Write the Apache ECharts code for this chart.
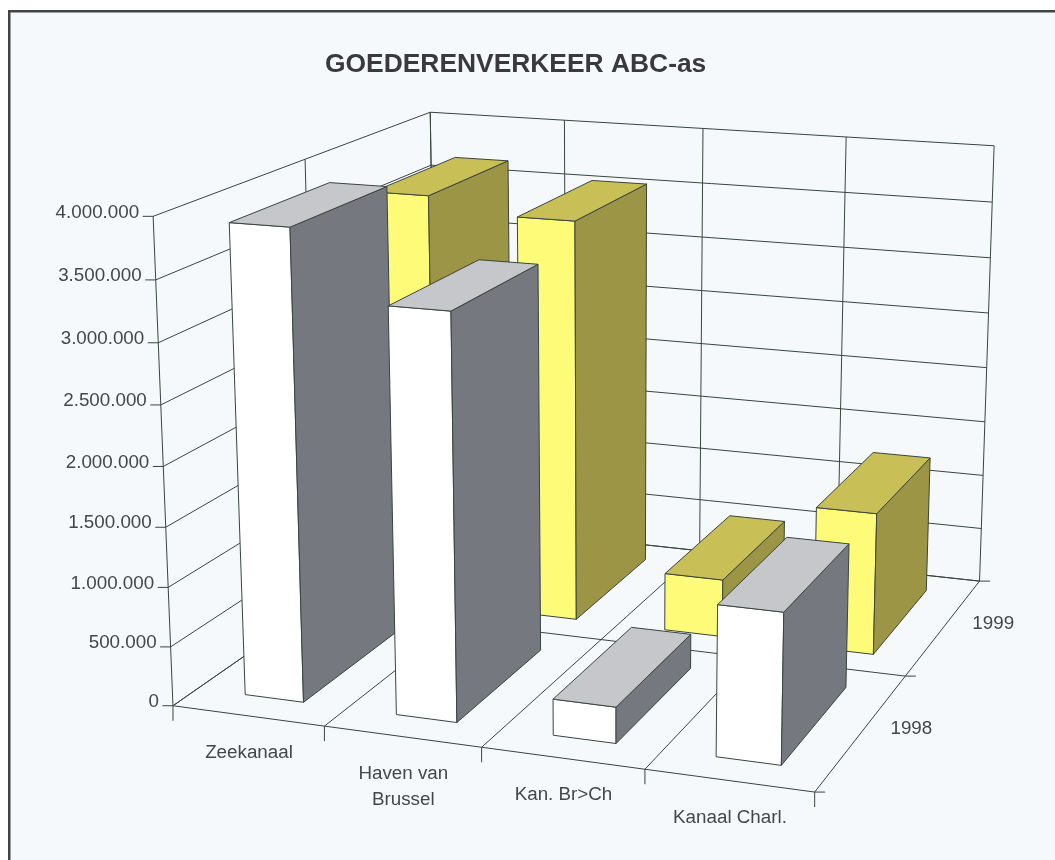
<!DOCTYPE html>
<html>
<head>
<meta charset="utf-8">
<title>GOEDERENVERKEER ABC-as</title>
<style>
	html, body { margin: 0; padding: 0; background: #ffffff; }
	#chart { width: 1055px; height: 860px; }
</style>
<script src="https://cdn.jsdelivr.net/npm/echarts@6/dist/echarts.min.js"></script>
</head>
<body>
<div id="chart"></div>
<script>
// Chart data
const chartTitle = 'GOEDERENVERKEER ABC-as';
const categories = ['Zeekanaal', 'Haven van\nBrussel', 'Kan. Br>Ch', 'Kanaal Charl.'];
const years = ['1998', '1999'];
const values1998 = [3900000, 3340000, 300000, 1230000];
const values1999 = [3670000, 3540000, 510000, 1240000];
const valueTicks = [0, 500000, 1000000, 1500000, 2000000, 2500000, 3000000, 3500000, 4000000];
const tickLabels = ['0', '500.000', '1.000.000', '1.500.000', '2.000.000', '2.500.000', '3.000.000', '3.500.000', '4.000.000'];

// Box floor: u = category position 0..4, w = depth 0..2 (front to back), v = value share 0..1
// Reference points of the box on screen, used to fit the camera
const calibration = [
	[0, 0, 0, 173, 706], [1, 0, 0, 324.5, 725.7], [2, 0, 0, 480.7, 746.7], [3, 0, 0, 645.5, 769.3], [4, 0, 0, 815.2, 791.7],
	[4, 1, 0, 905, 677.3], [4, 2, 0, 979.6, 580], [2, 2, 0, 699.7, 552.3], [3, 2, 0, 837.3, 565],
	[4, 2, 1, 994.3, 146], [3, 2, 1, 846.4, 137.3], [2, 2, 1, 702.4, 128.3], [1, 2, 1, 563.5, 120], [0, 2, 1, 431, 111.7],
	[0, 1, 1, 306, 159.3], [0, 0, 1, 152.5, 216.7]
];

const lineColor = '#3a453e';
const textColor = '#444648';
const fontFamily = '"Liberation Sans", Arial, sans-serif';
const barInset = { uFrom: 0.32, uTo: 0.71, wFrom: 0.16, wTo: 0.84 };
const whiteFaces = { front: '#ffffff', top: '#c5c7cb', side: '#75797f' };
const yellowFaces = { front: '#fdfb78', top: '#c9bf57', side: '#9c9545' };

// Least squares fit of the 3x4 camera matrix
function fitCamera(points) {
	let n = 11;
	let ata = [];
	let atb = [];
	for (let i = 0; i < n; i++) {
		ata[i] = new Array(n).fill(0);
		atb[i] = 0;
	}
	function addRow(row, b) {
		for (let i = 0; i < n; i++) {
			for (let j = 0; j < n; j++) {
				ata[i][j] += row[i] * row[j];
			}
			atb[i] += row[i] * b;
		}
	}
	for (let p of points) {
		let X = p[0], Y = p[1], Z = p[2], x = p[3] / 1000, y = p[4] / 1000;
		addRow([X, Y, Z, 1, 0, 0, 0, 0, -x * X, -x * Y, -x * Z], x);
		addRow([0, 0, 0, 0, X, Y, Z, 1, -y * X, -y * Y, -y * Z], y);
	}
	// Gaussian elimination
	for (let c = 0; c < n; c++) {
		let best = c;
		for (let r = c + 1; r < n; r++) {
			if (Math.abs(ata[r][c]) > Math.abs(ata[best][c])) best = r;
		}
		[ata[c], ata[best]] = [ata[best], ata[c]];
		[atb[c], atb[best]] = [atb[best], atb[c]];
		for (let r = c + 1; r < n; r++) {
			let f = ata[r][c] / ata[c][c];
			for (let k = c; k < n; k++) ata[r][k] -= f * ata[c][k];
			atb[r] -= f * atb[c];
		}
	}
	let m = new Array(n).fill(0);
	for (let r = n - 1; r >= 0; r--) {
		let s = atb[r];
		for (let k = r + 1; k < n; k++) s -= ata[r][k] * m[k];
		m[r] = s / ata[r][r];
	}
	return m;
}

const camera = fitCamera(calibration);

function project(u, w, v) {
	let d = camera[8] * u + camera[9] * w + camera[10] * v + 1;
	return [
		1000 * (camera[0] * u + camera[1] * w + camera[2] * v + camera[3]) / d,
		1000 * (camera[4] * u + camera[5] * w + camera[6] * v + camera[7]) / d
	];
}

// Value share from the library's own value axis
function valueShare(api, value) {
	let y0 = api.coord([0, valueTicks[0]])[1];
	let y1 = api.coord([0, valueTicks[valueTicks.length - 1]])[1];
	return (y0 - api.coord([0, value])[1]) / (y0 - y1);
}

function line(a, b) {
	return {
		type: 'line',
		shape: { x1: a[0], y1: a[1], x2: b[0], y2: b[1] },
		style: { stroke: lineColor, lineWidth: 1, fill: null }
	};
}

function label(text, x, y, align) {
	return {
		type: 'text',
		x: x,
		y: y,
		style: {
			text: text,
			fill: textColor,
			font: '18.8px ' + fontFamily,
			align: align,
			verticalAlign: 'middle',
			lineHeight: 26
		}
	};
}

function renderWalls(params, api) {
	let children = [];
	let nCat = categories.length;
	for (let tick of valueTicks) {
		let v = valueShare(api, tick);
		children.push(line(project(0, 0, v), project(0, 2, v)));
		children.push(line(project(0, 2, v), project(nCat, 2, v)));
		let p = project(0, 0, v);
		children.push(line([p[0] - 10.5, p[1]], p));
	}
	for (let w = 0; w <= years.length; w++) {
		children.push(line(project(0, w, 0), project(0, w, 1)));
		children.push(line(project(0, w, 0), project(nCat, w, 0)));
		let p = project(nCat, w, 0);
		children.push(line(p, [p[0] + 10.5, p[1]]));
	}
	for (let u = 0; u <= nCat; u++) {
		children.push(line(project(u, 0, 0), project(u, 2, 0)));
		children.push(line(project(u, 2, 0), project(u, 2, 1)));
		let p = project(u, 0, 0);
		children.push(line(p, [p[0], p[1] + 15]));
	}
	return { type: 'group', children: children };
}

function face(points, fill) {
	return {
		type: 'polygon',
		shape: { points: points },
		style: { fill: fill, stroke: lineColor, lineWidth: 1 }
	};
}

function makeBarRenderer(rowIndex, faces) {
	return function (params, api) {
		let cat = api.value(0);
		let v = valueShare(api, api.value(1));
		let u0 = cat + barInset.uFrom, u1 = cat + barInset.uTo;
		let w0 = rowIndex + barInset.wFrom, w1 = rowIndex + barInset.wTo;
		return {
			type: 'group',
			children: [
				face([project(u0, w0, 0), project(u1, w0, 0), project(u1, w0, v), project(u0, w0, v)], faces.front),
				face([project(u1, w0, 0), project(u1, w1, 0), project(u1, w1, v), project(u1, w0, v)], faces.side),
				face([project(u0, w0, v), project(u1, w0, v), project(u1, w1, v), project(u0, w1, v)], faces.top)
			]
		};
	};
}

function renderLabels(params, api) {
	let children = [];
	valueTicks.forEach(function (tick, i) {
		let p = project(0, 0, valueShare(api, tick));
		children.push(label(tickLabels[i], p[0] - 14, p[1] - 4, 'right'));
	});
	categories.forEach(function (name, i) {
		let p = project(i + 0.5, 0, 0);
		let lines = name.split('\n').length;
		children.push(label(name, p[0] + 1, p[1] + 37 + (lines - 1) * 13, 'center'));
	});
	years.forEach(function (year, i) {
		let p = project(categories.length, i + 0.5, 0);
		children.push(label(year, p[0] + 49, p[1] - 2.5, 'center'));
	});
	return { type: 'group', children: children };
}

function seriesData(values) {
	return values.map(function (value, i) { return [i, value]; });
}

let chart = echarts.init(document.getElementById('chart'));
chart.setOption({
	animation: false,
	backgroundColor: '#ffffff',
	title: {
		text: chartTitle,
		left: 325,
		top: 52,
		padding: 0,
		textStyle: { color: '#3a3a3d', fontFamily: fontFamily, fontSize: 26.4, fontWeight: 'bold' }
	},
	// Page sheet and its frame lines
	graphic: [
		{ type: 'rect', z: -10, shape: { x: 10, y: 12, width: 1045, height: 848 }, style: { fill: '#f6f9fc' } },
		{ type: 'rect', z: -9, shape: { x: 8, y: 10, width: 1047, height: 2.5 }, style: { fill: '#444446' } },
		{ type: 'rect', z: -9, shape: { x: 8, y: 10, width: 2.5, height: 850 }, style: { fill: '#444446' } }
	],
	// Hidden axes: they hold the scales, the box itself is a projection of them
	grid: { left: 100, right: 100, top: 100, bottom: 100, show: false },
	xAxis: { type: 'category', data: categories, show: false },
	yAxis: { type: 'value', min: 0, max: 4000000, interval: 500000, show: false },
	series: [
		{ type: 'custom', name: 'wanden', z: 1, silent: true, clip: false, data: [[0, 0]], renderItem: renderWalls },
		{ type: 'custom', name: years[1], z: 2, clip: false, data: seriesData(values1999), renderItem: makeBarRenderer(1, yellowFaces) },
		{ type: 'custom', name: years[0], z: 3, clip: false, data: seriesData(values1998), renderItem: makeBarRenderer(0, whiteFaces) },
		{ type: 'custom', name: 'labels', z: 4, silent: true, clip: false, data: [[0, 0]], renderItem: renderLabels }
	]
});
</script>
</body>
</html>
